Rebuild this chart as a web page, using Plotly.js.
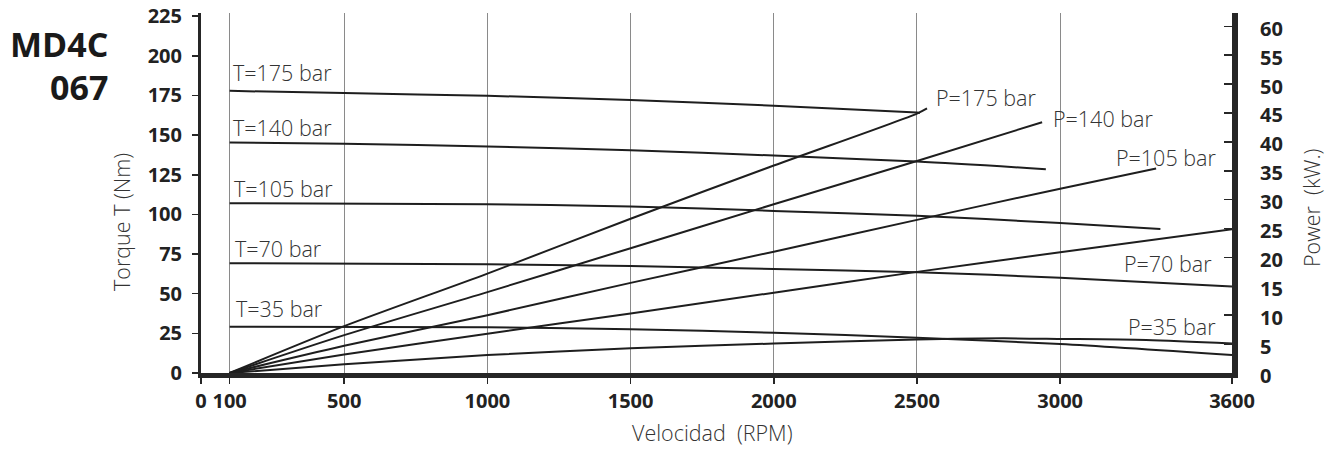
<!DOCTYPE html>
<html>
<head>
<meta charset="utf-8">
<script src="https://cdn.plot.ly/plotly-3.0.1.min.js"></script>
<style>
  html, body { margin: 0; padding: 0; background: #ffffff; }
  #chart { width: 1332px; height: 450px; }
</style>
</head>
<body>
<div id="chart"></div>
<script>
// ---- data ----
// speed in RPM
const rpmT175 = [100, 500, 1000, 1500, 2000, 2500, 2510];
const torqueT175 = [177.9, 176.5, 174.8, 172.2, 168.5, 164.2, 164.0];
const rpmT140 = [100, 500, 1000, 1500, 2000, 2500, 2950];
const torqueT140 = [145.3, 144.5, 142.8, 140.5, 137.1, 133.3, 128.5];
const rpmT105 = [100, 1000, 1500, 2000, 2500, 3000, 3350];
const torqueT105 = [107.1, 106.4, 105.0, 102.2, 99.1, 94.6, 90.8];
const rpmT70 = [100, 1000, 1500, 2000, 2500, 3000, 3600];
const torqueT70 = [69.2, 68.6, 67.4, 65.6, 63.6, 60.0, 54.5];
const rpmT35 = [100, 1000, 1500, 2000, 2500, 3000, 3600];
const torqueT35 = [29.2, 28.8, 27.6, 25.4, 22.3, 18.3, 11.4];

const rpmP175 = [100, 500, 1000, 1500, 2000, 2500, 2535];
const powerP175 = [0, 8.1, 17.2, 26.7, 35.9, 44.9, 45.8];
const rpmP140 = [100, 500, 1000, 1500, 2000, 2500, 2937];
const powerP140 = [0, 6.55, 14.0, 21.6, 29.2, 36.7, 43.4];
const rpmP105 = [100, 500, 1000, 1500, 2000, 2500, 3000, 3335];
const powerP105 = [0, 4.7, 10.0, 15.6, 21.0, 26.5, 31.9, 35.4];
const rpmP70 = [100, 500, 1000, 1500, 2000, 2500, 3000, 3600];
const powerP70 = [0, 3.2, 6.8, 10.3, 13.9, 17.5, 20.9, 24.9];
const rpmP35 = [100, 500, 1000, 1500, 2000, 2500, 2800, 3000, 3300, 3600];
const powerP35 = [0, 1.5, 3.1, 4.3, 5.1, 5.8, 6.0, 5.9, 5.7, 5.1];

const xTickVals = [0, 100, 500, 1000, 1500, 2000, 2500, 3000, 3600];
const xTickText = ['0', '100', '500', '1000', '1500', '2000', '2500', '3000', '3600'];
const torqueTicks = [0, 25, 50, 75, 100, 125, 150, 175, 200, 225];
const powerTicks = [0, 5, 10, 15, 20, 25, 30, 35, 40, 45, 50, 55, 60];

const torqueLabels = ['T=175 bar', 'T=140 bar', 'T=105 bar', 'T=70 bar', 'T=35 bar'];
const powerLabels = ['P=175 bar', 'P=140 bar', 'P=105 bar', 'P=70 bar', 'P=35 bar'];

const titleLine1 = 'MD4C';
const titleLine2 = '067';
const xTitle = 'Velocidad  (RPM)';
const yTitle = 'Torque T (Nm)';
const y2Title = 'Power  (kW.)';

// ---- layout geometry ----
const W = 1332, H = 450;
const M = { l: 201, r: 100, t: 13, b: 77 };
const PW = W - M.l - M.r, PH = H - M.t - M.b;
const px = (x) => (x - M.l) / PW;          // pixel -> paper x
const py = (y) => (H - M.b - y) / PH;      // pixel -> paper y

const lineCol = '#1e1e1e';
const textCol = '#333333';
const FONT = 'Open Sans, Noto Sans, DejaVu Sans, sans-serif';
const TORQUE_MAX = 227, POWER_MAX = 62.3;

function tr(x, y, axis) {
  return { x: x, y: y, yaxis: axis, type: 'scatter', mode: 'lines',
           line: { color: lineCol, width: 2, shape: 'spline', smoothing: 0.8 },
           hoverinfo: 'skip', showlegend: false };
}

const data = [
  tr(rpmT175, torqueT175, 'y'),
  tr(rpmT140, torqueT140, 'y'),
  tr(rpmT105, torqueT105, 'y'),
  tr(rpmT70, torqueT70, 'y'),
  tr(rpmT35, torqueT35, 'y'),
  tr(rpmP175, powerP175, 'y2'),
  tr(rpmP140, powerP140, 'y2'),
  tr(rpmP105, powerP105, 'y2'),
  tr(rpmP70, powerP70, 'y2'),
  tr(rpmP35, powerP35, 'y2')
];

const tPos = [[231, 73], [231, 127], [232, 188.5], [233, 248], [234, 308.5]];
const pPos = [[934, 97.5], [1051, 119], [1114, 157], [1122, 263], [1126, 326]];

const labelFont = { family: FONT, size: 21.5, color: textCol, weight: 300 };
const tickFont = { family: FONT, size: 20, color: '#222222', weight: 700 };
const annotations = [];
torqueLabels.forEach((t, i) => annotations.push({
  text: t, xref: 'paper', yref: 'paper', x: px(tPos[i][0]), y: py(tPos[i][1]),
  xanchor: 'left', yanchor: 'middle', showarrow: false, font: labelFont
}));
powerLabels.forEach((t, i) => annotations.push({
  text: t, xref: 'paper', yref: 'paper', x: px(pPos[i][0]), y: py(pPos[i][1]),
  xanchor: 'left', yanchor: 'middle', showarrow: false, font: labelFont
}));
// power axis tick labels, placed on the power scale (y2)
powerTicks.forEach((v) => annotations.push({
  text: String(v), xref: 'paper', yref: 'y2', x: px(1258), y: v, yshift: -2,
  xanchor: 'left', yanchor: 'middle', showarrow: false, font: tickFont
}));
const titleFont = { family: FONT, size: 34, color: '#1a1a1a', weight: 700 };
annotations.push({ text: titleLine1, xref: 'paper', yref: 'paper', x: px(110), y: py(44),
  xanchor: 'right', yanchor: 'middle', showarrow: false, font: titleFont });
annotations.push({ text: titleLine2, xref: 'paper', yref: 'paper', x: px(110), y: py(87),
  xanchor: 'right', yanchor: 'middle', showarrow: false, font: titleFont });
annotations.push({ text: yTitle, xref: 'paper', yref: 'paper', x: px(122), y: py(222),
  xanchor: 'center', yanchor: 'middle', textangle: -90, showarrow: false, font: labelFont });
annotations.push({ text: y2Title, xref: 'paper', yref: 'paper', x: px(1311), y: py(208),
  xanchor: 'center', yanchor: 'middle', textangle: -90, showarrow: false, font: labelFont });
annotations.push({ text: xTitle, xref: 'paper', yref: 'paper', x: px(712), y: py(432),
  xanchor: 'center', yanchor: 'middle', showarrow: false, font: labelFont });

const layout = {
  width: W, height: H,
  margin: M,
  paper_bgcolor: '#ffffff', plot_bgcolor: '#ffffff',
  showlegend: false,
  xaxis: {
    range: [0, 3600], tickmode: 'array', tickvals: xTickVals, ticktext: xTickText,
    showgrid: true, gridcolor: '#8a8a8a', gridwidth: 1, zeroline: false,
    showline: true, linecolor: '#262626', linewidth: 5,
    ticks: 'outside', ticklen: 6, tickwidth: 1.5, tickcolor: '#262626',
    tickfont: tickFont, ticklabelstandoff: 0, fixedrange: true
  },
  yaxis: {
    range: [0, TORQUE_MAX], tickmode: 'array', tickvals: torqueTicks,
    showgrid: false, zeroline: false,
    showline: true, linecolor: '#262626', linewidth: 3,
    ticks: 'outside', ticklen: 6, tickwidth: 1.5, tickcolor: '#262626',
    tickfont: tickFont, ticklabelstandoff: 6, fixedrange: true
  },
  yaxis2: {
    range: [0, POWER_MAX], tickmode: 'array', tickvals: powerTicks,
    overlaying: 'y', side: 'right', anchor: 'x',
    showgrid: false, zeroline: false,
    showline: true, linecolor: '#262626', linewidth: 6,
    ticks: 'inside', ticklen: 8, tickwidth: 1.5, tickcolor: '#262626',
    showticklabels: false, fixedrange: true
  },
  annotations: annotations
};

Plotly.newPlot('chart', data, layout, { staticPlot: true, displayModeBar: false });
</script>
</body>
</html>
